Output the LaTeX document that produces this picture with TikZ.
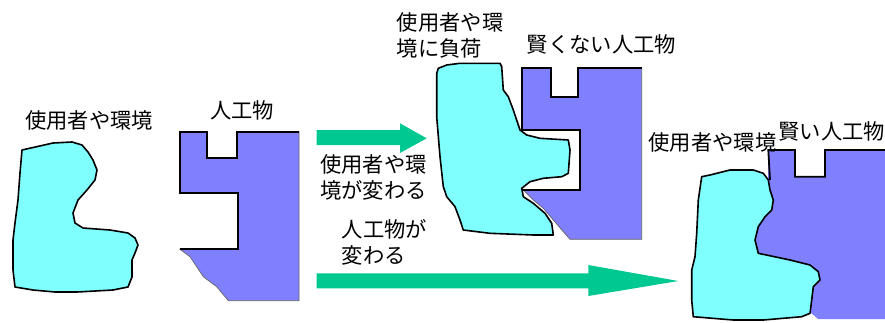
\documentclass[tikz,border=0pt]{standalone}
\usepackage{fontspec}
\newfontfamily\jp{Noto Sans CJK JP}
\definecolor{cyanfill}{RGB}{128,255,255}
\definecolor{purplefill}{RGB}{128,128,255}
\definecolor{arrowgreen}{RGB}{0,200,145}
\tikzset{
  lbl/.style={inner sep=0pt, anchor=west, align=left, font=\jp\fontsize{21.3}{26}\selectfont},
  blob/.style={fill=cyanfill, draw=black, line width=1.6pt, line join=round},
  artfill/.style={fill=purplefill, draw=black!60, line width=0.7pt},
  artedge/.style={draw=black, line width=1.8pt, line join=miter},
  bigarrow/.style={fill=arrowgreen, draw=none}
}
\begin{document}
\begin{tikzpicture}[x=1pt,y=-1pt]
\useasboundingbox (0,0) rectangle (885,322);

% ---------- left: user/environment blob ----------
\path[blob] (22,150) -- (53,143) -- (72,142) -- (82,145) -- (88,152) -- (93,160) -- (97,170)
  -- (95,180) -- (87,190) -- (78,200) -- (73,213) -- (75,223) -- (83,228) -- (110,230)
  -- (128,233) -- (135,238) -- (138,245) -- (135,253) -- (132,260) -- (132,277)
  -- (128,287) -- (113,290) -- (77,292) -- (55,292) -- (33,290) -- (15,287) -- (13,270)
  -- (13,240) -- (15,223) -- (18,200) -- (20,173) -- cycle;
\node[lbl] (userL) at (25,120) {使用者や環境};

% ---------- left: artifact ----------
\path[artfill] (180,131.7) -- (206.7,131.7) -- (206.7,158.3) -- (236.7,158.3) -- (236.7,131.7)
  -- (299,131.7) -- (299,300.7) -- (228.3,300.7) -- (216.7,286.7) -- (203.3,276.7)
  -- (196.7,266.7) -- (190,256.7) -- (180,249.3) -- (238.3,249.3) -- (238.3,193.3)
  -- (180,193.3) -- cycle;
\draw[artedge] (180,249.3) -- (238.3,249.3) -- (238.3,193.3) -- (180,193.3) -- (180,131.7)
  -- (206.7,131.7) -- (206.7,158.3) -- (236.7,158.3) -- (236.7,131.7) -- (299,131.7);
\node[lbl] (artL) at (210,110.8) {人工物};

% ---------- top arrow ----------
\path[bigarrow] (316.7,130) -- (400,130) -- (400,123.3) -- (426.7,138.3) -- (400,153)
  -- (400,145) -- (316.7,145) -- cycle;
\node[lbl] (envChange) at (320,177.5) {使用者や環\\境が変わる};

% ---------- middle: dumb artifact ----------
\path[artfill] (521.7,67.7) -- (550.7,67.7) -- (550.7,96.7) -- (578.3,96.7) -- (578.3,67.7)
  -- (641.7,67.7) -- (641.7,239.3) -- (570,239.3) -- (563.3,231.7) -- (553.3,220)
  -- (543.3,208.3) -- (533.3,200) -- (523.3,190) -- (580,190) -- (580,130)
  -- (521.7,130) -- cycle;
\draw[artedge] (523.3,190) -- (580,190) -- (580,130) -- (521.7,130) -- (521.7,67.7)
  -- (550.7,67.7) -- (550.7,96.7) -- (578.3,96.7) -- (578.3,67.7) -- (641.7,67.7);

% ---------- middle: burdened user blob ----------
\path[blob] (438.3,68.3) -- (446.7,65) -- (460,63.3) -- (500,63.3) -- (501.7,66.7)
  -- (503.3,90) -- (508.3,96.7) -- (513.3,110) -- (520,130) -- (526.7,135) -- (540,138.3)
  -- (568.3,140) -- (570,150) -- (568.3,173.3) -- (561.7,176.7) -- (543.3,178.3)
  -- (530,181.7) -- (521.7,188.3) -- (523.3,196.7) -- (533.3,203.3) -- (545,213.3)
  -- (551.7,223.3) -- (553.3,235) -- (533.3,235) -- (490,233.3) -- (463.3,230)
  -- (460,220) -- (455,206.7) -- (446.7,196.7) -- (443.3,186.7) -- (440,156.7)
  -- (436.7,116.7) -- (436.7,73.3) -- cycle;
\node[lbl] (burden) at (396.7,35.5) {使用者や環\\境に負荷};
\node[lbl] (dumb) at (526.7,44) {賢くない人工物};

% ---------- bottom arrow ----------
\path[bigarrow] (316.7,273.3) -- (588.3,273.3) -- (588.3,265) -- (678.3,281) -- (588.3,296)
  -- (588.3,288.3) -- (316.7,288.3) -- cycle;
\node[lbl] (artChange) at (341.7,242.5) {人工物が\\変わる};

% ---------- right: smart artifact ----------
\path[fill=purplefill] (768.3,150) -- (795,150) -- (795,176.7) -- (825,176.7) -- (825,150)
  -- (885,150) -- (885,319) -- (818,319) -- (810,312) -- (800,300) -- (750,260)
  -- (750,200) -- (768,178) -- cycle;
\draw[artedge] (770,180) -- (768.3,150) -- (795,150) -- (795,176.7) -- (825,176.7)
  -- (825,150) -- (885,150);

% ---------- right: user blob ----------
\path[blob] (701.7,176.7) -- (710,175) -- (730,170) -- (753.3,170) -- (763.3,173.3)
  -- (768.3,180) -- (770,190) -- (773.3,200) -- (771.7,210) -- (765,216.7) -- (758.3,226.7)
  -- (755,240) -- (758.3,253.3) -- (790,260) -- (810,265) -- (818.3,271.7) -- (820,280)
  -- (813.3,286.7) -- (811.7,300) -- (810,313.3) -- (801.7,316.7) -- (763.3,320)
  -- (733.3,320) -- (693.3,316.7) -- (691.7,300) -- (691.7,270) -- (695,256.7)
  -- (696.7,233.3) -- (698.3,200) -- cycle;
\node[lbl] (userR) at (648.3,142.5) {使用者や環境};
\node[lbl] (smart) at (778.3,131.7) {賢い人工物};
\end{tikzpicture}
\end{document}
